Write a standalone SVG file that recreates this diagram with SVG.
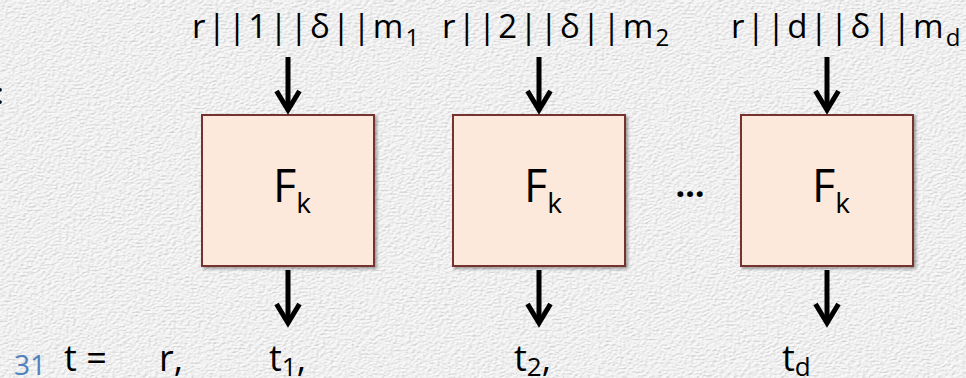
<svg xmlns="http://www.w3.org/2000/svg" width="966" height="378" viewBox="0 0 966 378">
  <defs>
    <!-- embossed paper texture for the backdrop -->
    <filter id="paper" x="0" y="0" width="100%" height="100%">
      <feTurbulence type="fractalNoise" baseFrequency="0.28 0.55" numOctaves="3" seed="7" result="noise"/>
      <feDiffuseLighting in="noise" surfaceScale="2.2" diffuseConstant="1" lighting-color="#ffffff" result="lit">
        <feDistantLight azimuth="235" elevation="50"/>
      </feDiffuseLighting>
      <feComponentTransfer in="lit">
        <feFuncR type="linear" slope="0.36" intercept="0.6"/>
        <feFuncG type="linear" slope="0.36" intercept="0.6"/>
        <feFuncB type="linear" slope="0.36" intercept="0.6"/>
      </feComponentTransfer>
    </filter>
    <filter id="shadow" x="-10%" y="-10%" width="125%" height="125%">
      <feDropShadow dx="2" dy="2" stdDeviation="1.6" flood-color="#000" flood-opacity="0.35"/>
    </filter>
    <marker id="head" markerUnits="userSpaceOnUse" viewBox="-26 -16 32 32" markerWidth="32" markerHeight="32" refX="0" refY="0" orient="auto" overflow="visible">
      <path d="M-19,-11.5 L0,0 L-19,11.5" fill="none" stroke="#000" stroke-width="5" stroke-linejoin="miter" stroke-miterlimit="10"/>
    </marker>
    <style>
      .lbl { font-family: "Open Sans", "Noto Sans", sans-serif; fill: #000; }
      .top { font-size: 33px; letter-spacing: 2.2px; }
      .sub { font-size: 24px; letter-spacing: 0; }
      .bot { font-size: 36px; }
      .bsub { font-size: 26px; }
      .fk  { font-size: 45px; }
      .fks { font-size: 28px; }
      .box { fill: #fde9db; stroke: #74302f; stroke-width: 2; filter: url(#shadow); }
      .wire { stroke: #000; stroke-width: 5; fill: none; marker-end: url(#head); }
      .pg { font-family: "Open Sans", "Noto Sans", sans-serif; font-size: 28px; fill: #4f81bd; }
    </style>
  </defs>

  <rect width="966" height="378" fill="#e6e6e6"/>
  <rect width="966" height="378" filter="url(#paper)"/>

  <!-- clipped colon at the left edge -->
  <text class="lbl" x="-4" y="104" font-size="30">:</text>

  <!-- input labels -->
  <g id="in1"><text class="lbl top" x="192" y="38">r||1||δ||m<tspan class="sub" dy="8">1</tspan></text></g>
  <g id="in2"><text class="lbl top" x="442" y="38">r||2||δ||m<tspan class="sub" dy="8">2</tspan></text></g>
  <g id="ind"><text class="lbl top" x="731" y="38">r||d||δ||m<tspan class="sub" dy="8">d</tspan></text></g>

  <!-- PRF blocks -->
  <g id="f1">
    <rect class="box" x="202" y="115" width="172" height="151"/>
    <text class="lbl fk" x="273" y="202">F<tspan class="fks" dy="11">k</tspan></text>
  </g>
  <g id="f2">
    <rect class="box" x="453" y="115" width="172" height="151"/>
    <text class="lbl fk" x="524" y="202">F<tspan class="fks" dy="11">k</tspan></text>
  </g>
  <g id="fd">
    <rect class="box" x="741" y="115" width="172" height="151"/>
    <text class="lbl fk" x="812" y="202">F<tspan class="fks" dy="11">k</tspan></text>
  </g>

  <g id="dots"><text class="lbl" x="690" y="197" font-size="34" font-weight="bold" text-anchor="middle">…</text></g>

  <!-- connectors -->
  <g id="connectors">
    <line class="wire" x1="288" y1="57" x2="288" y2="110"/>
    <line class="wire" x1="539" y1="57" x2="539" y2="110"/>
    <line class="wire" x1="827" y1="57" x2="827" y2="110"/>
    <line class="wire" x1="288" y1="270" x2="288" y2="323"/>
    <line class="wire" x1="539" y1="270" x2="539" y2="323"/>
    <line class="wire" x1="827" y1="270" x2="827" y2="323"/>
  </g>

  <!-- output tag -->
  <g id="out">
    <text class="pg" x="14" y="375">31</text>
    <text class="lbl bot" x="64" y="371">t =</text>
    <text class="lbl bot" x="159" y="371">r,</text>
    <text class="lbl bot" x="269" y="371">t<tspan class="bsub" dy="5">1</tspan><tspan dy="-5">,</tspan></text>
    <text class="lbl bot" x="514" y="371">t<tspan class="bsub" dy="5">2</tspan><tspan dy="-5">,</tspan></text>
    <text class="lbl bot" x="782" y="371">t<tspan class="bsub" dy="5">d</tspan></text>
  </g>
</svg>
